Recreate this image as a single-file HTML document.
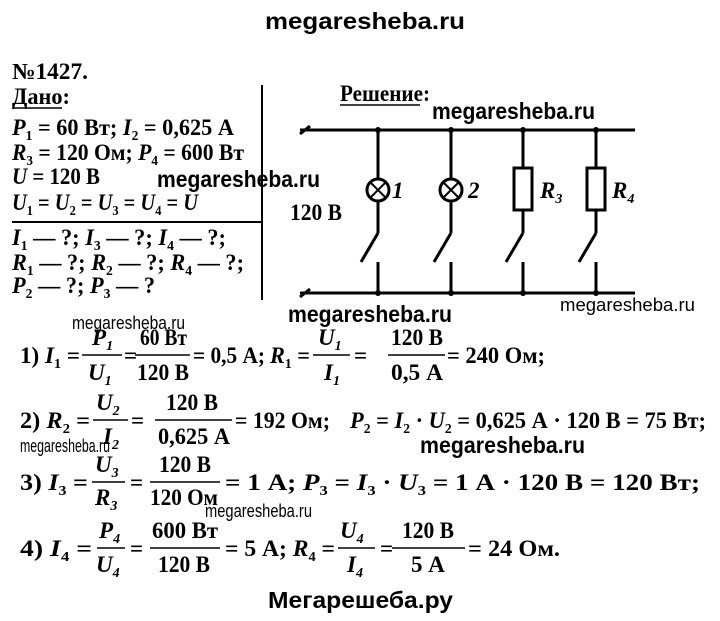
<!DOCTYPE html>
<html><head><meta charset="utf-8"><style>
html,body{margin:0;padding:0;background:#fff;}
svg{display:block}
.s{font-family:"Liberation Serif",serif;font-weight:bold;font-size:23px;fill:#000}
.i{font-style:italic}
.w{font-family:"Liberation Sans",sans-serif;font-weight:bold;font-size:23px;fill:#000}
.ws{font-family:"Liberation Sans",sans-serif;font-size:18px;fill:#000}
</style></head><body>
<svg width="720" height="621" viewBox="0 0 720 621" xmlns="http://www.w3.org/2000/svg">
<text class="w" x="265" y="29" font-size="31" textLength="200" lengthAdjust="spacingAndGlyphs">megaresheba.ru</text>
<text class="s" x="12" y="79" font-size="22" textLength="76" lengthAdjust="spacingAndGlyphs">№1427.</text>

<text class="s" x="12" y="104" textLength="58" lengthAdjust="spacingAndGlyphs">Дано:</text>
<line x1="12" y1="108" x2="62" y2="108" stroke="#000" stroke-width="1.5"/>
<text class="s" x="12" y="135" textLength="222" lengthAdjust="spacingAndGlyphs"><tspan class="i">P</tspan><tspan dy="5" font-size="14">1</tspan><tspan dy="-5"> = 60 Вт; </tspan><tspan class="i">I</tspan><tspan dy="5" font-size="14">2</tspan><tspan dy="-5"> = 0,625 А</tspan></text>
<text class="s" x="12" y="160" textLength="232" lengthAdjust="spacingAndGlyphs"><tspan class="i">R</tspan><tspan dy="5" font-size="14">3</tspan><tspan dy="-5"> = 120 Ом; </tspan><tspan class="i">P</tspan><tspan dy="5" font-size="14">4</tspan><tspan dy="-5"> = 600 Вт</tspan></text>
<text class="s" x="12" y="184" textLength="88" lengthAdjust="spacingAndGlyphs"><tspan class="i">U</tspan> = 120 В</text>
<text class="s" x="12" y="210" textLength="186" lengthAdjust="spacingAndGlyphs"><tspan class="i">U</tspan><tspan dy="5" font-size="14">1</tspan><tspan dy="-5"> = </tspan><tspan class="i">U</tspan><tspan dy="5" font-size="14">2</tspan><tspan dy="-5"> = </tspan><tspan class="i">U</tspan><tspan dy="5" font-size="14">3</tspan><tspan dy="-5"> = </tspan><tspan class="i">U</tspan><tspan dy="5" font-size="14">4</tspan><tspan dy="-5"> = </tspan><tspan class="i">U</tspan></text>
<line x1="12" y1="222" x2="262" y2="222" stroke="#000" stroke-width="2"/>
<line x1="262" y1="85" x2="262" y2="300" stroke="#000" stroke-width="2"/>
<text class="s" x="12" y="245" textLength="214" lengthAdjust="spacingAndGlyphs"><tspan class="i">I</tspan><tspan dy="5" font-size="14">1</tspan><tspan dy="-5"> — ?; </tspan><tspan class="i">I</tspan><tspan dy="5" font-size="14">3</tspan><tspan dy="-5"> — ?; </tspan><tspan class="i">I</tspan><tspan dy="5" font-size="14">4</tspan><tspan dy="-5"> — ?;</tspan></text>
<text class="s" x="12" y="270" textLength="232" lengthAdjust="spacingAndGlyphs"><tspan class="i">R</tspan><tspan dy="5" font-size="14">1</tspan><tspan dy="-5"> — ?; </tspan><tspan class="i">R</tspan><tspan dy="5" font-size="14">2</tspan><tspan dy="-5"> — ?; </tspan><tspan class="i">R</tspan><tspan dy="5" font-size="14">4</tspan><tspan dy="-5"> — ?;</tspan></text>
<text class="s" x="12" y="293" textLength="143" lengthAdjust="spacingAndGlyphs"><tspan class="i">P</tspan><tspan dy="5" font-size="14">2</tspan><tspan dy="-5"> — ?; </tspan><tspan class="i">P</tspan><tspan dy="5" font-size="14">3</tspan><tspan dy="-5"> — ?</tspan></text>
<text class="w" x="157" y="187" textLength="163" lengthAdjust="spacingAndGlyphs">megaresheba.ru</text>

<text class="s" x="340" y="101" textLength="90" lengthAdjust="spacingAndGlyphs">Решение:</text>
<line x1="340" y1="105" x2="420" y2="105" stroke="#000" stroke-width="1.5"/>
<text class="w" x="432" y="119" textLength="163" lengthAdjust="spacingAndGlyphs">megaresheba.ru</text>
<text class="s" x="290" y="220" textLength="52" lengthAdjust="spacingAndGlyphs">120 В</text>

<g stroke="#000" stroke-width="3" fill="none">
<line x1="300" y1="130" x2="635" y2="130"/>
<line x1="300" y1="293" x2="635" y2="293"/>
<line x1="300" y1="134" x2="310" y2="126"/>
<line x1="300" y1="297" x2="310" y2="289"/>
<line x1="378" y1="130" x2="378" y2="179"/>
<circle cx="378" cy="190" r="11"/>
<line x1="370" y1="182" x2="386" y2="198" stroke-width="2"/>
<line x1="386" y1="182" x2="370" y2="198" stroke-width="2"/>
<line x1="378" y1="201" x2="378" y2="233"/>
<line x1="378" y1="233" x2="361" y2="262"/>
<line x1="378" y1="262" x2="378" y2="293"/>
<line x1="451" y1="130" x2="451" y2="179"/>
<circle cx="451" cy="190" r="11"/>
<line x1="443" y1="182" x2="459" y2="198" stroke-width="2"/>
<line x1="459" y1="182" x2="443" y2="198" stroke-width="2"/>
<line x1="451" y1="201" x2="451" y2="233"/>
<line x1="451" y1="233" x2="434" y2="262"/>
<line x1="451" y1="262" x2="451" y2="293"/>
<line x1="523" y1="130" x2="523" y2="168"/>
<rect x="514" y="168" width="18" height="42"/>
<line x1="523" y1="210" x2="523" y2="233"/>
<line x1="523" y1="233" x2="506" y2="262"/>
<line x1="523" y1="262" x2="523" y2="293"/>
<line x1="596" y1="130" x2="596" y2="168"/>
<rect x="587" y="168" width="18" height="42"/>
<line x1="596" y1="210" x2="596" y2="233"/>
<line x1="596" y1="233" x2="579" y2="262"/>
<line x1="596" y1="262" x2="596" y2="293"/>
</g>
<g fill="#000">
<circle cx="378" cy="130" r="3"/><circle cx="451" cy="130" r="3"/><circle cx="523" cy="130" r="3"/><circle cx="596" cy="130" r="3"/>
<circle cx="378" cy="293" r="3"/><circle cx="451" cy="293" r="3"/><circle cx="523" cy="293" r="3"/><circle cx="596" cy="293" r="3"/>
</g>
<text class="s i" x="392" y="198">1</text>
<text class="s i" x="468" y="198">2</text>
<text class="s i" x="540" y="198">R<tspan dy="5" font-size="14">3</tspan></text>
<text class="s i" x="612" y="198">R<tspan dy="5" font-size="14">4</tspan></text>

<text class="w" x="288" y="322" textLength="164" lengthAdjust="spacingAndGlyphs">megaresheba.ru</text>
<text class="ws" x="560" y="311" textLength="135" lengthAdjust="spacingAndGlyphs">megaresheba.ru</text>
<text class="ws" x="72" y="329" textLength="113" lengthAdjust="spacingAndGlyphs">megaresheba.ru</text>

<g stroke="#000" stroke-width="1.5">
<line x1="82" y1="355" x2="122" y2="355"/><line x1="135" y1="355" x2="190" y2="355"/>
<line x1="313" y1="355" x2="350" y2="355"/><line x1="388" y1="355" x2="445" y2="355"/>
<line x1="93" y1="420" x2="128" y2="420"/><line x1="155" y1="420" x2="232" y2="420"/>
<line x1="92" y1="482" x2="125" y2="482"/><line x1="150" y1="482" x2="220" y2="482"/>
<line x1="97" y1="548" x2="125" y2="548"/><line x1="150" y1="548" x2="220" y2="548"/>
<line x1="338" y1="548" x2="375" y2="548"/><line x1="392" y1="548" x2="465" y2="548"/>
</g>
<text class="s" x="20" y="363" textLength="60" lengthAdjust="spacingAndGlyphs">1) <tspan class="i">I</tspan><tspan dy="5" font-size="14">1</tspan><tspan dy="-5"> =</tspan></text>
<text class="s i" x="92" y="345">P<tspan dy="5" font-size="14">1</tspan></text>
<text class="s i" x="88" y="380">U<tspan dy="5" font-size="14">1</tspan></text>
<text class="s" x="124" y="363">=</text>
<text class="s" x="140" y="345" textLength="47" lengthAdjust="spacingAndGlyphs">60 Вт</text>
<text class="s" x="137" y="380" textLength="52" lengthAdjust="spacingAndGlyphs">120 В</text>
<text class="s" x="193" y="363" textLength="72" lengthAdjust="spacingAndGlyphs">= 0,5 А;</text>
<text class="s" x="270" y="363" textLength="40" lengthAdjust="spacingAndGlyphs"><tspan class="i">R</tspan><tspan dy="5" font-size="14">1</tspan><tspan dy="-5"> =</tspan></text>
<text class="s i" x="318" y="345">U<tspan dy="5" font-size="14">1</tspan></text>
<text class="s i" x="324" y="380">I<tspan dy="5" font-size="14">1</tspan></text>
<text class="s" x="354" y="363">=</text>
<text class="s" x="391" y="345" textLength="52" lengthAdjust="spacingAndGlyphs">120 В</text>
<text class="s" x="391" y="380" textLength="52" lengthAdjust="spacingAndGlyphs">0,5 А</text>
<text class="s" x="447" y="363" textLength="98" lengthAdjust="spacingAndGlyphs">= 240 Ом;</text>

<text class="s" x="20" y="428" textLength="70" lengthAdjust="spacingAndGlyphs">2)  <tspan class="i">R</tspan><tspan dy="5" font-size="14">2</tspan><tspan dy="-5"> =</tspan></text>
<text class="s i" x="96" y="410">U<tspan dy="5" font-size="14">2</tspan></text>
<text class="s i" x="103" y="444">I<tspan dy="5" font-size="14">2</tspan></text>
<text class="s" x="131" y="428">=</text>
<text class="s" x="166" y="410" textLength="52" lengthAdjust="spacingAndGlyphs">120 В</text>
<text class="s" x="158" y="444" textLength="72" lengthAdjust="spacingAndGlyphs">0,625 А</text>
<text class="s" x="235" y="428" textLength="95" lengthAdjust="spacingAndGlyphs">= 192 Ом;</text>
<text class="s" x="350" y="428" textLength="356" lengthAdjust="spacingAndGlyphs"><tspan class="i">P</tspan><tspan dy="5" font-size="14">2</tspan><tspan dy="-5"> = </tspan><tspan class="i">I</tspan><tspan dy="5" font-size="14">2</tspan><tspan dy="-5"> · </tspan><tspan class="i">U</tspan><tspan dy="5" font-size="14">2</tspan><tspan dy="-5"> = 0,625 А · 120 В = 75 Вт;</tspan></text>
<text class="ws" x="20" y="452" font-size="14" textLength="90" lengthAdjust="spacingAndGlyphs">megaresheba.ru</text>
<text class="w" x="420" y="453" textLength="165" lengthAdjust="spacingAndGlyphs">megaresheba.ru</text>

<text class="s" x="20" y="490" textLength="68" lengthAdjust="spacingAndGlyphs">3)  <tspan class="i">I</tspan><tspan dy="5" font-size="14">3</tspan><tspan dy="-5"> =</tspan></text>
<text class="s i" x="95" y="472">U<tspan dy="5" font-size="14">3</tspan></text>
<text class="s i" x="95" y="505">R<tspan dy="5" font-size="14">3</tspan></text>
<text class="s" x="130" y="490">=</text>
<text class="s" x="159" y="472" textLength="52" lengthAdjust="spacingAndGlyphs">120 В</text>
<text class="s" x="150" y="505" textLength="68" lengthAdjust="spacingAndGlyphs">120 Ом</text>
<text class="s" x="225" y="490" textLength="475" lengthAdjust="spacingAndGlyphs">= 1 А;  <tspan class="i">P</tspan><tspan dy="5" font-size="14">3</tspan><tspan dy="-5"> = </tspan><tspan class="i">I</tspan><tspan dy="5" font-size="14">3</tspan><tspan dy="-5"> · </tspan><tspan class="i">U</tspan><tspan dy="5" font-size="14">3</tspan><tspan dy="-5"> = 1 А · 120 В = 120 Вт;</tspan></text>
<text class="ws" x="205" y="517" textLength="107" lengthAdjust="spacingAndGlyphs">megaresheba.ru</text>

<text class="s" x="20" y="556" textLength="72" lengthAdjust="spacingAndGlyphs">4)  <tspan class="i">I</tspan><tspan dy="5" font-size="14">4</tspan><tspan dy="-5"> =</tspan></text>
<text class="s i" x="99" y="538">P<tspan dy="5" font-size="14">4</tspan></text>
<text class="s i" x="96" y="572">U<tspan dy="5" font-size="14">4</tspan></text>
<text class="s" x="130" y="556">=</text>
<text class="s" x="152" y="538" textLength="66" lengthAdjust="spacingAndGlyphs">600 Вт</text>
<text class="s" x="158" y="572" textLength="52" lengthAdjust="spacingAndGlyphs">120 В</text>
<text class="s" x="225" y="556" textLength="110" lengthAdjust="spacingAndGlyphs">= 5 А;  <tspan class="i">R</tspan><tspan dy="5" font-size="14">4</tspan><tspan dy="-5"> =</tspan></text>
<text class="s i" x="340" y="538">U<tspan dy="5" font-size="14">4</tspan></text>
<text class="s i" x="347" y="572">I<tspan dy="5" font-size="14">4</tspan></text>
<text class="s" x="380" y="556">=</text>
<text class="s" x="402" y="538" textLength="52" lengthAdjust="spacingAndGlyphs">120 В</text>
<text class="s" x="411" y="572">5 А</text>
<text class="s" x="468" y="556" textLength="92" lengthAdjust="spacingAndGlyphs">= 24 Ом.</text>

<text class="w" x="268" y="608" font-size="32" textLength="185" lengthAdjust="spacingAndGlyphs">Мегарешеба.ру</text>
</svg>
</body></html>
